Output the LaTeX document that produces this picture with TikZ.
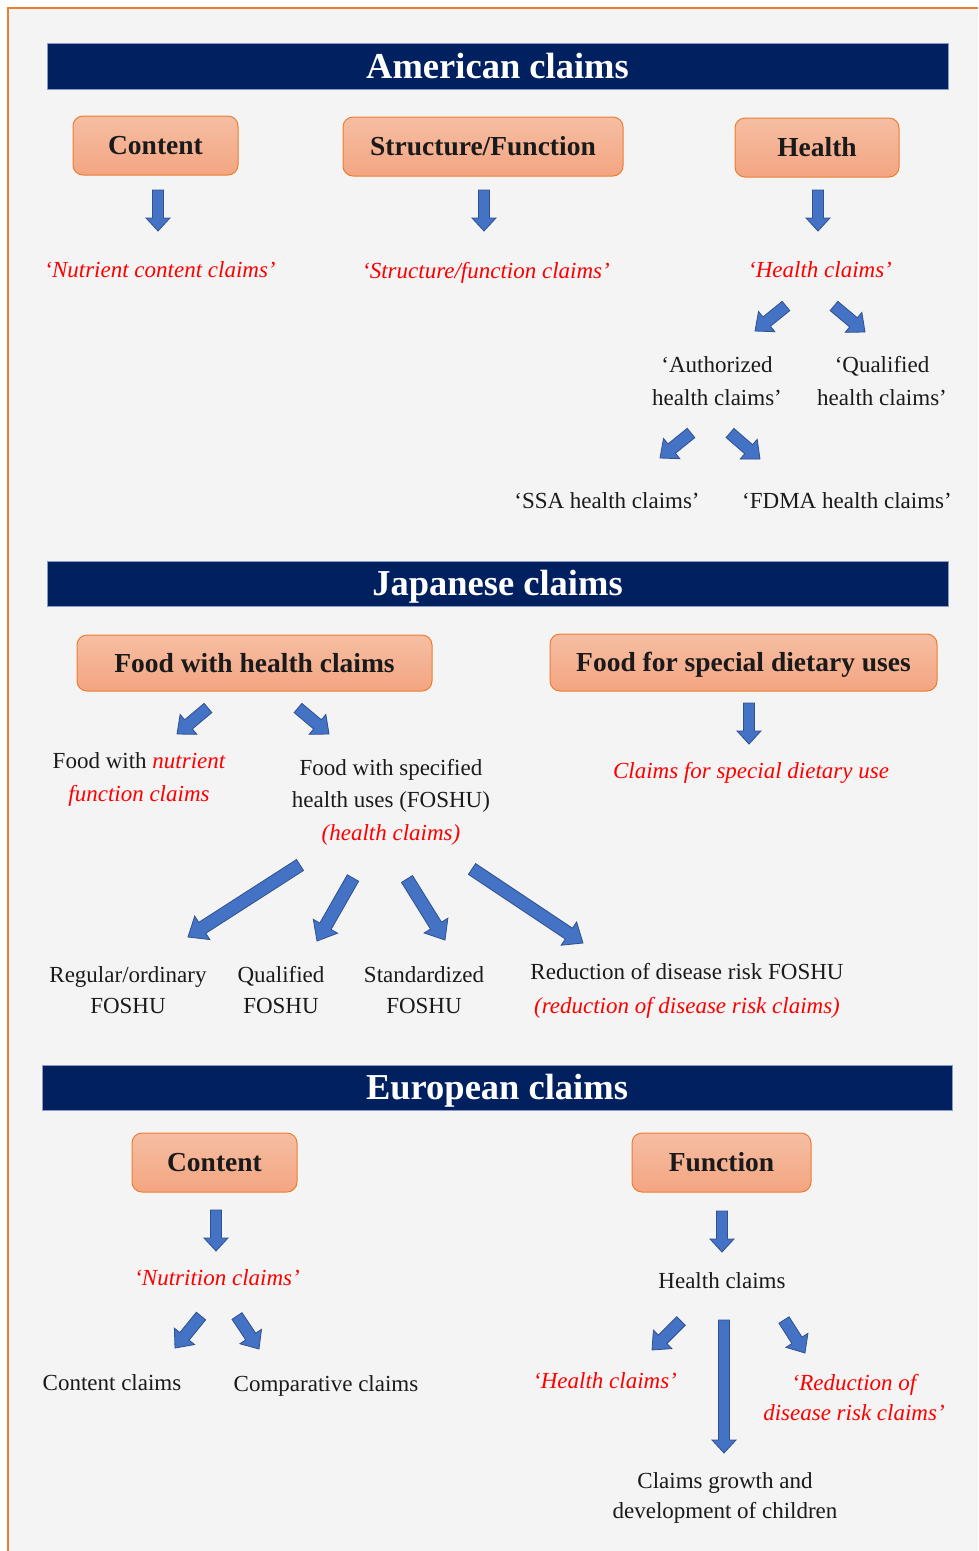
\documentclass[tikz,border=0pt]{standalone}
\usepackage{fontspec}
\setmainfont{Liberation Serif}
\usetikzlibrary{calc}
\definecolor{navy}{HTML}{002060}
\definecolor{navyedge}{HTML}{8A9AC6}
\definecolor{bggrey}{HTML}{F4F4F4}
\definecolor{frameorange}{HTML}{ED7D31}
\definecolor{boxtop}{HTML}{F5BEA3}
\definecolor{boxbot}{HTML}{F4A581}
\definecolor{arrowblue}{HTML}{4472C4}
\definecolor{arrowedge}{HTML}{2F528F}
\definecolor{txtblack}{HTML}{1A1A1A}
\definecolor{claimred}{HTML}{FF0000}
% block arrow: start, end, half shaft, half head, head length
\newcommand{\barrow}[5]{%
  \draw[blockarrow] ($(#1)!#3!90:(#2)$) -- ($(#2)!#5!(#1)!#3!-90:(#1)$)
    -- ($(#2)!#5!(#1)!#4!-90:(#1)$) -- (#2)
    -- ($(#2)!#5!(#1)!#4!90:(#1)$) -- ($(#2)!#5!(#1)!#3!90:(#1)$)
    -- ($(#1)!#3!-90:(#2)$) -- cycle;}
\begin{document}
\begin{tikzpicture}[x=1pt,y=-1pt,
  header/.style={fill=navy, draw=navyedge, line width=0.8pt, text=white,
    font=\fontsize{36.5}{40}\selectfont\bfseries, inner sep=0pt,
    text height=24.5pt, text depth=0pt},
  catbox/.style={rounded corners=10pt, top color=boxtop, bottom color=boxbot,
    draw=frameorange, line width=1pt, text=txtblack,
    font=\fontsize{27.5}{32}\selectfont\bfseries, inner sep=0pt,
    text height=18.5pt, text depth=0pt},
  plain/.style={text=txtblack, font=\fontsize{23}{32.5}\selectfont,
    inner sep=0pt, align=center, anchor=base},
  redtext/.style={plain, text=claimred, font=\fontsize{23}{32.5}\selectfont\itshape},
  blockarrow/.style={fill=arrowblue, draw=arrowedge, line width=0.8pt, line join=miter}]
\useasboundingbox (0,0) rectangle (978,1551);
\fill[white] (0,0) rectangle (978,1551);
\fill[bggrey] (9,9) rectangle (978,1551);
\draw[frameorange, line width=2pt] (8,1551) -- (8,8) -- (978,8);

% ---------------- American
\node[header, minimum width=901pt, minimum height=46pt] (amhead) at (497.5,66) {American claims};
\node[catbox, minimum width=165pt, minimum height=59pt] (amC) at (155.5,145.5) {Content};
\node[catbox, minimum width=280pt, minimum height=59pt] (amS) at (483,146.5) {Structure/Function};
\node[catbox, minimum width=164pt, minimum height=59pt] (amH) at (817,147.5) {Health};

\node[redtext] (amCt) at (160,277) {‘Nutrient content claims’};
\node[redtext] (amSt) at (486,278) {‘Structure/function claims’};
\node[redtext] (amHt) at (820,277) {‘Health claims’};
\node[plain] (amAu) at (717,405) {‘Authorized\\health claims’};
\node[plain] (amQu) at (882,405) {‘Qualified\\health claims’};
\node[plain] (amSSA) at (607,508) {‘SSA health claims’};
\node[plain] (amFD) at (847,508) {‘FDMA health claims’};

\coordinate (a1s) at (158,190); \coordinate (a1e) at (158,231);
\coordinate (a2s) at (484,190); \coordinate (a2e) at (484,231);
\coordinate (a3s) at (818,190); \coordinate (a3e) at (818,231);
\coordinate (a4s) at (786,306); \coordinate (a4e) at (755,331);
\coordinate (a5s) at (834,306); \coordinate (a5e) at (865,332);
\coordinate (a6s) at (691,433); \coordinate (a6e) at (660,458);
\coordinate (a7s) at (730,433); \coordinate (a7e) at (760,459);
\barrow{a1s}{a1e}{5.5pt}{12pt}{13pt}
\barrow{a2s}{a2e}{5.5pt}{12pt}{13pt}
\barrow{a3s}{a3e}{5.5pt}{12pt}{13pt}
\barrow{a4s}{a4e}{6pt}{13pt}{15pt}
\barrow{a5s}{a5e}{6pt}{13pt}{15pt}
\barrow{a6s}{a6e}{6pt}{13pt}{15pt}
\barrow{a7s}{a7e}{6pt}{13pt}{15pt}

% ---------------- Japanese
\node[header, minimum width=901pt, minimum height=45pt] (jphead) at (497.5,583.5) {Japanese claims};
\node[catbox, minimum width=355pt, minimum height=56pt] (jpF) at (254.5,663) {Food with health claims};
\node[catbox, minimum width=387pt, minimum height=57pt] (jpS) at (743.5,662.5) {Food for special dietary uses};

\node[plain] (jpN) at (139,801) {Food with \textcolor{claimred}{\itshape nutrient}\\\textcolor{claimred}{\itshape function claims}};
\node[plain] (jpFO) at (391,840) {Food with specified\\health uses (FOSHU)\\\textcolor{claimred}{\itshape (health claims)}};
\node[redtext] (jpD) at (751,778) {Claims for special dietary use};
\node[plain] (jpR) at (128,1013) {Regular/ordinary\\[-1.5pt]FOSHU};
\node[plain] (jpQ) at (281,1013) {Qualified\\[-1.5pt]FOSHU};
\node[plain] (jpSt) at (424,1013) {Standardized\\[-1.5pt]FOSHU};
\node[plain] (jpRd) at (687,1013) {Reduction of disease risk FOSHU\\[1pt]\textcolor{claimred}{\itshape (reduction of disease risk claims)}};

\coordinate (b1s) at (208,708); \coordinate (b1e) at (177,734);
\coordinate (b2s) at (298,708); \coordinate (b2e) at (329,734);
\coordinate (b3s) at (749,703); \coordinate (b3e) at (749,744);
\coordinate (b4s) at (300,865); \coordinate (b4e) at (188,937);
\coordinate (b5s) at (353,878); \coordinate (b5e) at (317,941);
\coordinate (b6s) at (407,879); \coordinate (b6e) at (445,940);
\coordinate (b7s) at (472,869); \coordinate (b7e) at (583,943);
\barrow{b1s}{b1e}{6pt}{13pt}{15pt}
\barrow{b2s}{b2e}{6pt}{13pt}{15pt}
\barrow{b3s}{b3e}{5.5pt}{12pt}{13pt}
\barrow{b4s}{b4e}{6.5pt}{14pt}{17pt}
\barrow{b5s}{b5e}{6.5pt}{14pt}{17pt}
\barrow{b6s}{b6e}{6.5pt}{14pt}{17pt}
\barrow{b7s}{b7e}{6.5pt}{14pt}{17pt}

% ---------------- European
\node[header, minimum width=910pt, minimum height=45pt] (euhead) at (497,1087.5) {European claims};
\node[catbox, minimum width=165pt, minimum height=59pt] (euC) at (214.5,1162.5) {Content};
\node[catbox, minimum width=179pt, minimum height=59pt] (euF) at (721.5,1162.5) {Function};

\node[redtext] (euNu) at (217,1285) {‘Nutrition claims’};
\node[plain] (euHc) at (722,1288) {Health claims};
\node[plain] (euCo) at (112,1390) {Content claims};
\node[plain] (euCp) at (326,1391) {Comparative claims};
\node[redtext] (euHe) at (605,1388) {‘Health claims’};
\node[redtext] (euRd) at (854,1420) {‘Reduction of\\[-2.5pt]disease risk claims’};
\node[plain] (euGr) at (725,1518) {Claims growth and\\[-2.5pt]development of children};

\coordinate (c1s) at (216,1210); \coordinate (c1e) at (216,1251);
\coordinate (c2s) at (722,1211); \coordinate (c2e) at (722,1252);
\coordinate (c3s) at (201,1316); \coordinate (c3e) at (175,1348);
\coordinate (c4s) at (237,1316); \coordinate (c4e) at (259,1349);
\coordinate (c5s) at (681,1321); \coordinate (c5e) at (652,1350);
\coordinate (c6s) at (784,1320); \coordinate (c6e) at (805,1353);
\coordinate (c7s) at (724,1320); \coordinate (c7e) at (724,1453);
\barrow{c1s}{c1e}{5.5pt}{12pt}{13pt}
\barrow{c2s}{c2e}{5.5pt}{12pt}{13pt}
\barrow{c3s}{c3e}{6pt}{13pt}{15pt}
\barrow{c4s}{c4e}{6pt}{13pt}{15pt}
\barrow{c5s}{c5e}{6pt}{13pt}{15pt}
\barrow{c6s}{c6e}{6pt}{13pt}{15pt}
\barrow{c7s}{c7e}{5.5pt}{12pt}{13pt}
\end{tikzpicture}
\end{document}
